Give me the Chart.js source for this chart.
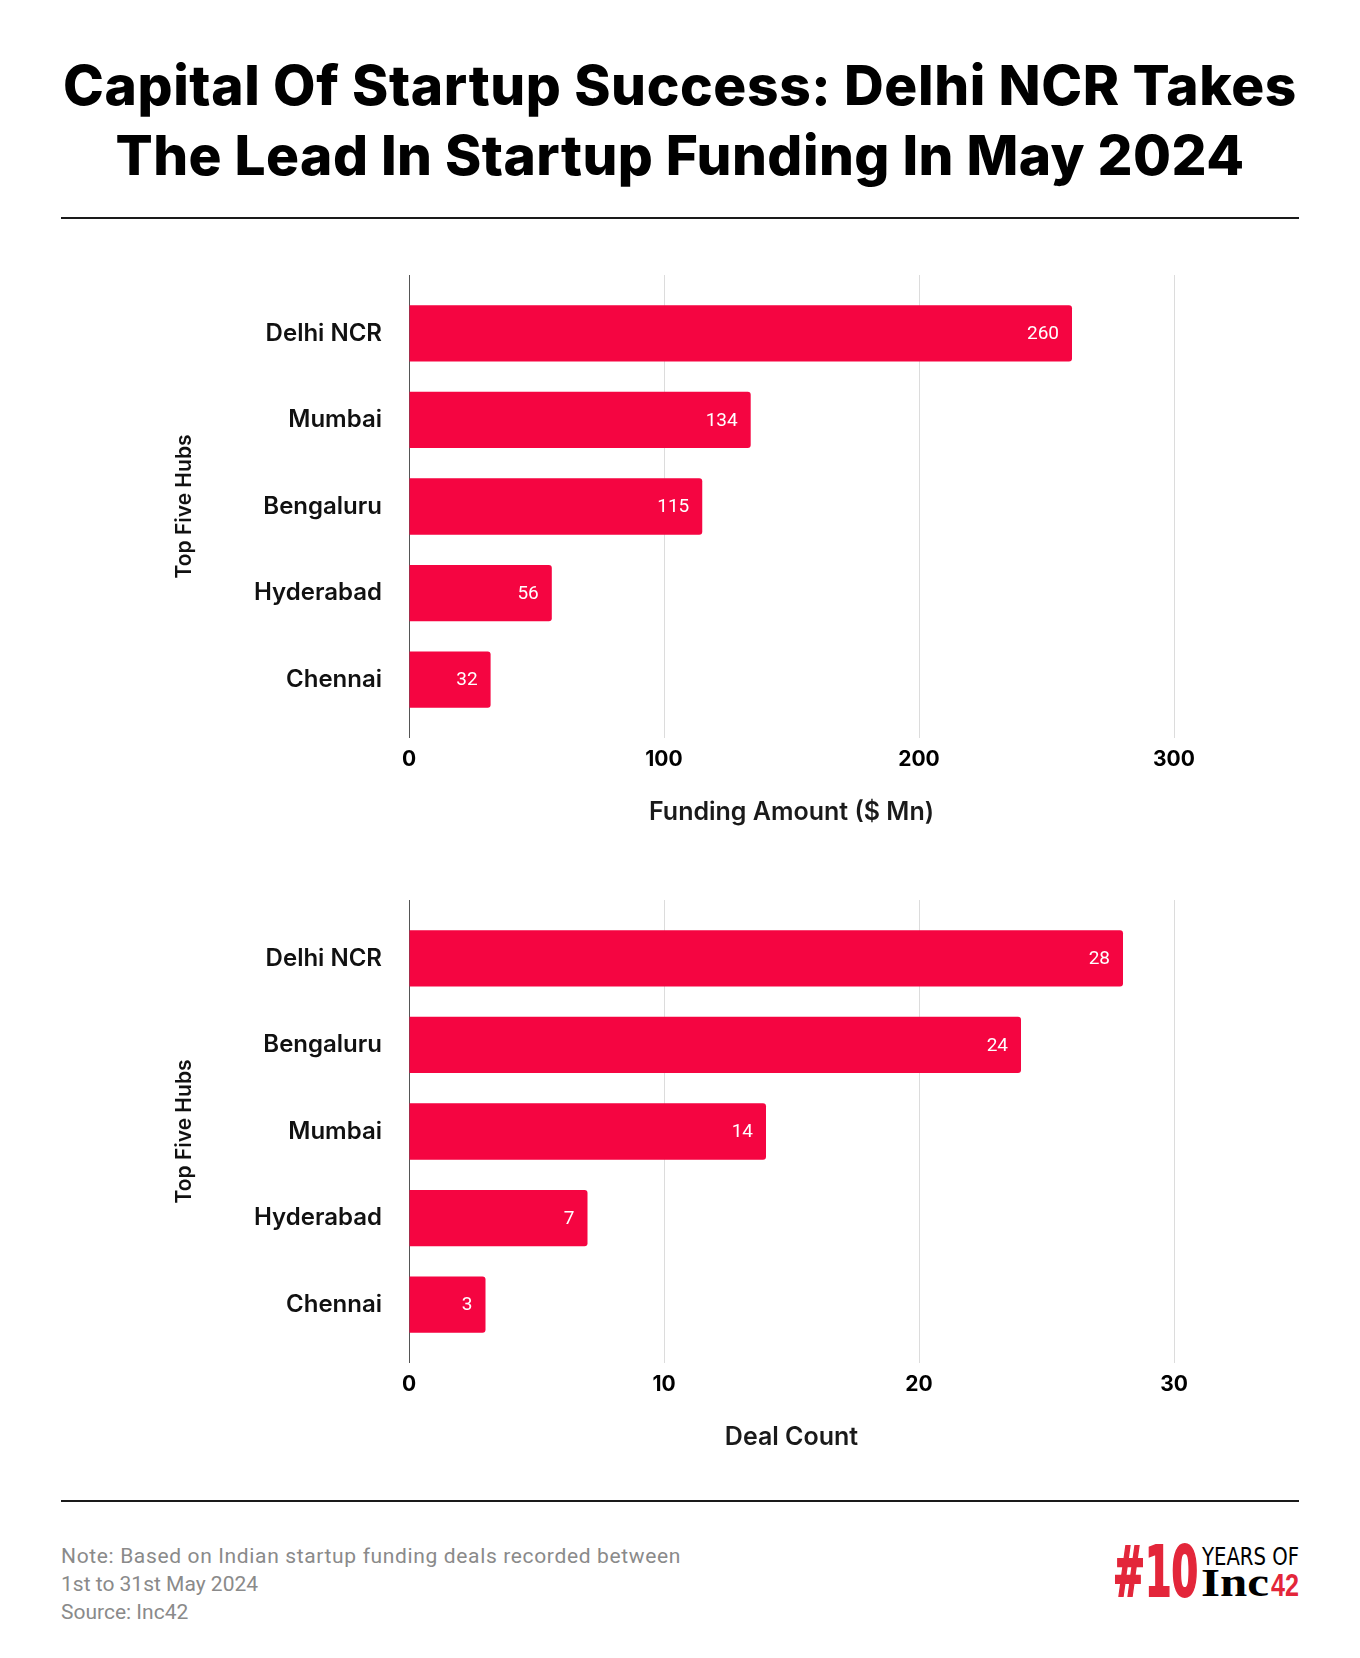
<!DOCTYPE html>
<html><head><meta charset="utf-8">
<script src="https://cdn.jsdelivr.net/npm/chart.js@4.4.1/dist/chart.umd.min.js"></script>
<style>
html,body{margin:0;padding:0;background:#fff;}
body{width:1360px;height:1658px;position:relative;overflow:hidden;font-family:Inter,sans-serif;}
.title{position:absolute;left:0;width:1360px;text-align:center;font-weight:800;font-size:55px;line-height:70px;color:#000;white-space:nowrap;}
.rule{position:absolute;left:61px;width:1238px;height:2px;background:#1a1a1a;}
.chartbox{position:absolute;left:0;width:1360px;height:600px;}
.note{position:absolute;left:61px;font-family:Roboto,sans-serif;font-size:21px;line-height:28px;color:#8a8a8a;white-space:nowrap;}
.logo{position:absolute;white-space:nowrap;line-height:1;transform-origin:left top;}
</style></head>
<body>
<div class="title" style="top:50px"><span id="t1">Capital Of Startup Success: Delhi NCR Takes</span></div>
<div class="title" style="top:120px"><span id="t2">The Lead In Startup Funding In May 2024</span></div>
<div class="rule" style="top:217px"></div>
<div class="chartbox" style="top:240px"><canvas id="c1" width="1360" height="600"></canvas></div>
<div class="chartbox" style="top:865px"><canvas id="c2" width="1360" height="600"></canvas></div>
<div class="rule" style="top:1500px"></div>
<div class="note" style="top:1542px"><span id="n1">Note: Based on Indian startup funding deals recorded between</span></div>
<div class="note" style="top:1570px"><span>1st to 31st May 2024</span></div>
<div class="note" style="top:1598px"><span>Source: Inc42</span></div>
<div class="logo" id="lg1" style="left:1113px;top:1537px;font-family:'Liberation Sans Narrow','DejaVu Sans Condensed',sans-serif;font-weight:700;font-size:70px;color:#E3263A;-webkit-text-stroke:2px #E3263A;">#10</div>
<div class="logo" id="lg2" style="left:1202px;top:1544px;font-family:'Liberation Sans Narrow','DejaVu Sans Condensed',sans-serif;font-weight:400;font-size:25px;color:#000;">YEARS OF</div>
<div class="logo" id="lg3" style="left:1201px;top:1563px;font-family:'Liberation Serif','DejaVu Serif',serif;font-weight:700;font-size:39px;color:#000;">Inc</div>
<div class="logo" id="lg4" style="left:1271px;top:1570px;font-family:'Liberation Sans','DejaVu Sans',sans-serif;font-weight:700;font-size:31px;color:#E3263A;">42</div>
<script>
// ---- data ----
const fundingHubs = ['Delhi NCR', 'Mumbai', 'Bengaluru', 'Hyderabad', 'Chennai'];
const fundingAmounts = [260, 134, 115, 56, 32];
const fundingTicks = [0, 100, 200, 300];

const dealHubs = ['Delhi NCR', 'Bengaluru', 'Mumbai', 'Hyderabad', 'Chennai'];
const dealCounts = [28, 24, 14, 7, 3];
const dealTicks = [0, 10, 20, 30];

const hubAxisTitle = 'Top Five Hubs';
const fundingAxisTitle = 'Funding Amount ($ Mn)';
const dealAxisTitle = 'Deal Count';

// ---- text fitting ----
function fitSpacing(id, target) {
  const el = document.getElementById(id);
  const w = el.getBoundingClientRect().width;
  const n = el.textContent.length;
  el.style.letterSpacing = ((target - w) / n) + 'px';
}
fitSpacing('t1', 1234);
fitSpacing('t2', 1129);
fitSpacing('n1', 620);
function fitWidth(id, target) {
  const el = document.getElementById(id);
  const w = el.getBoundingClientRect().width;
  el.style.transform = 'scaleX(' + (target / w) + ')';
}
fitWidth('lg1', 85); fitWidth('lg2', 97); fitWidth('lg3', 68); fitWidth('lg4', 28);

// ---- charts ----
Chart.defaults.font.family = 'Inter, sans-serif';
const BAR = '#F50541';

const valueLabels = {
  id: 'valueLabels',
  afterDatasetsDraw(chart) {
    const ctx = chart.ctx;
    const meta = chart.getDatasetMeta(0);
    const data = chart.data.datasets[0].data;
    ctx.save();
    ctx.font = '400 19px Roboto, sans-serif';
    ctx.fillStyle = '#ffffff';
    ctx.textAlign = 'right';
    ctx.textBaseline = 'middle';
    meta.data.forEach((bar, i) => {
      ctx.fillText(String(data[i]), bar.x - 13, bar.y + 1);
    });
    ctx.restore();
  }
};

function gridColor(c) { return c.tick && c.tick.value === 0 ? '#555555' : '#dcdcdc'; }

function makeChart(id, labels, values, ticks, xTitle) {
  const max = ticks[ticks.length - 1];
  const step = ticks[1] - ticks[0];
  return new Chart(document.getElementById(id), {
    type: 'bar',
    data: {
      labels: labels,
      datasets: [{
        data: values,
        xAxisID: 'x',
        backgroundColor: BAR,
        borderRadius: 3,
        borderSkipped: 'start',
        categoryPercentage: 1,
        barPercentage: 0.65
      }]
    },
    options: {
      indexAxis: 'y',
      responsive: false,
      animation: false,
      devicePixelRatio: 1,
      layout: { padding: { top: 35, left: 172, right: 186, bottom: 0 } },
      plugins: { legend: { display: false }, tooltip: { enabled: false } },
      scales: {
        x: {
          type: 'linear', position: 'bottom', min: 0, max: max,
          border: { display: false },
          grid: { color: gridColor, lineWidth: 1, drawTicks: true, tickLength: 15 },
          ticks: { stepSize: step, padding: 9, color: '#000', font: { size: 21, weight: '700' } },
          title: { display: true, text: xTitle, color: '#1a1a1a', font: { size: 25, weight: '600' }, padding: { top: 0, bottom: 13 } },
          afterFit(s) { s.height = 117; }
        },
        x2: {
          type: 'linear', position: 'top', min: 0, max: max,
          border: { display: false },
          grid: { color: gridColor, lineWidth: 1, drawTicks: true, tickLength: 15, drawOnChartArea: false },
          ticks: { stepSize: step, display: false },
          afterFit(s) { s.height = 15; }
        },
        y: {
          border: { display: false },
          grid: { display: false },
          ticks: { padding: 19, color: '#111', font: { size: 24, weight: '600' } },
          title: { display: true, text: hubAxisTitle, color: '#111', font: { size: 21, weight: '600' }, padding: { top: 0, bottom: 0 } },
          afterFit(s) { s.width = 237; }
        }
      }
    },
    plugins: [valueLabels]
  });
}

makeChart('c1', fundingHubs, fundingAmounts, fundingTicks, fundingAxisTitle);
makeChart('c2', dealHubs, dealCounts, dealTicks, dealAxisTitle);
</script>
</body></html>
